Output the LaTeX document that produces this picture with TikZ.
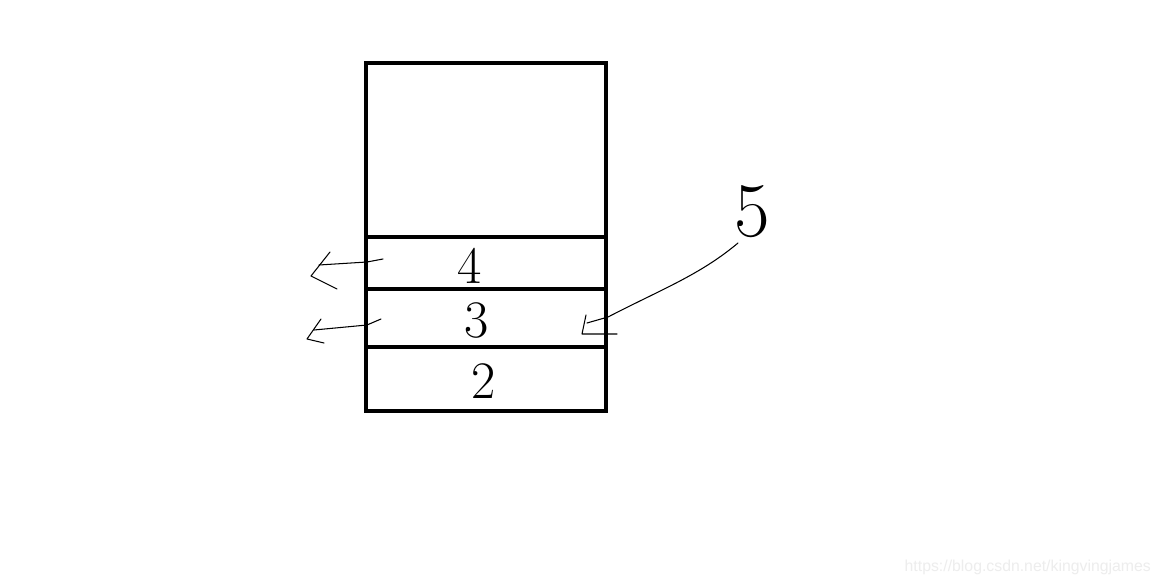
\documentclass[tikz,border=0pt]{standalone}
\usepackage{fontspec}
\newfontfamily\markfont{Liberation Sans}
\newcommand{\drawslot}[2]{
    \draw[slot] (366,#1) rectangle (606,#2);
}
\usepackage{tikz}
\usetikzlibrary{positioning}

\begin{document}
\begin{tikzpicture}[x=0.02cm,y=-0.02cm,
    slot/.style={line width=2.3pt},
    hand/.style={line width=0.6pt,line join=round,line cap=round},
    digit/.style={font=\fontsize{30}{30}\selectfont,inner sep=0pt}]
                \useasboundingbox[fill=white] (0,0) rectangle (1167,584);
                % Drawing the stack
                \drawslot{63}{237}
                \drawslot{237}{289}
                \drawslot{289}{347}
                \drawslot{347}{411}

                \node[digit] (four) at (470,266) {4};
                \node[digit] (three) at (477,321) {3};
                \node[digit] (two) at (484,381) {2};
                \node[digit,font=\fontsize{44}{44}\selectfont] (five) at (752,212) {5};

                % hand drawn arrows
                \coordinate (a4) at (383,259);
                \coordinate (b4) at (319,265);
                \coordinate (a3) at (381,319);
                \coordinate (b3) at (314,330);
                \coordinate (a5) at (738,243);
                \coordinate (b5) at (587,323);
                \draw[hand] (a4) -- (367,262) -- (b4);
                \draw[hand] (330,252) -- (311,276) -- (337,289);
                \draw[hand] (a3) -- (367,325) -- (b3);
                \draw[hand] (321,319) -- (307,339) -- (324,343);
                \draw[hand] (a5) .. controls (700,275) and (660,290) .. (608,317) -- (b5);
                \draw[hand] (586,315) -- (582,334) -- (617,334);

                \node[font=\markfont\fontsize{9}{9}\selectfont,text=black!7,anchor=east] (mark) at (1157,567) {https://blog.csdn.net/kingvingjames};
            \end{tikzpicture}
\end{document}
